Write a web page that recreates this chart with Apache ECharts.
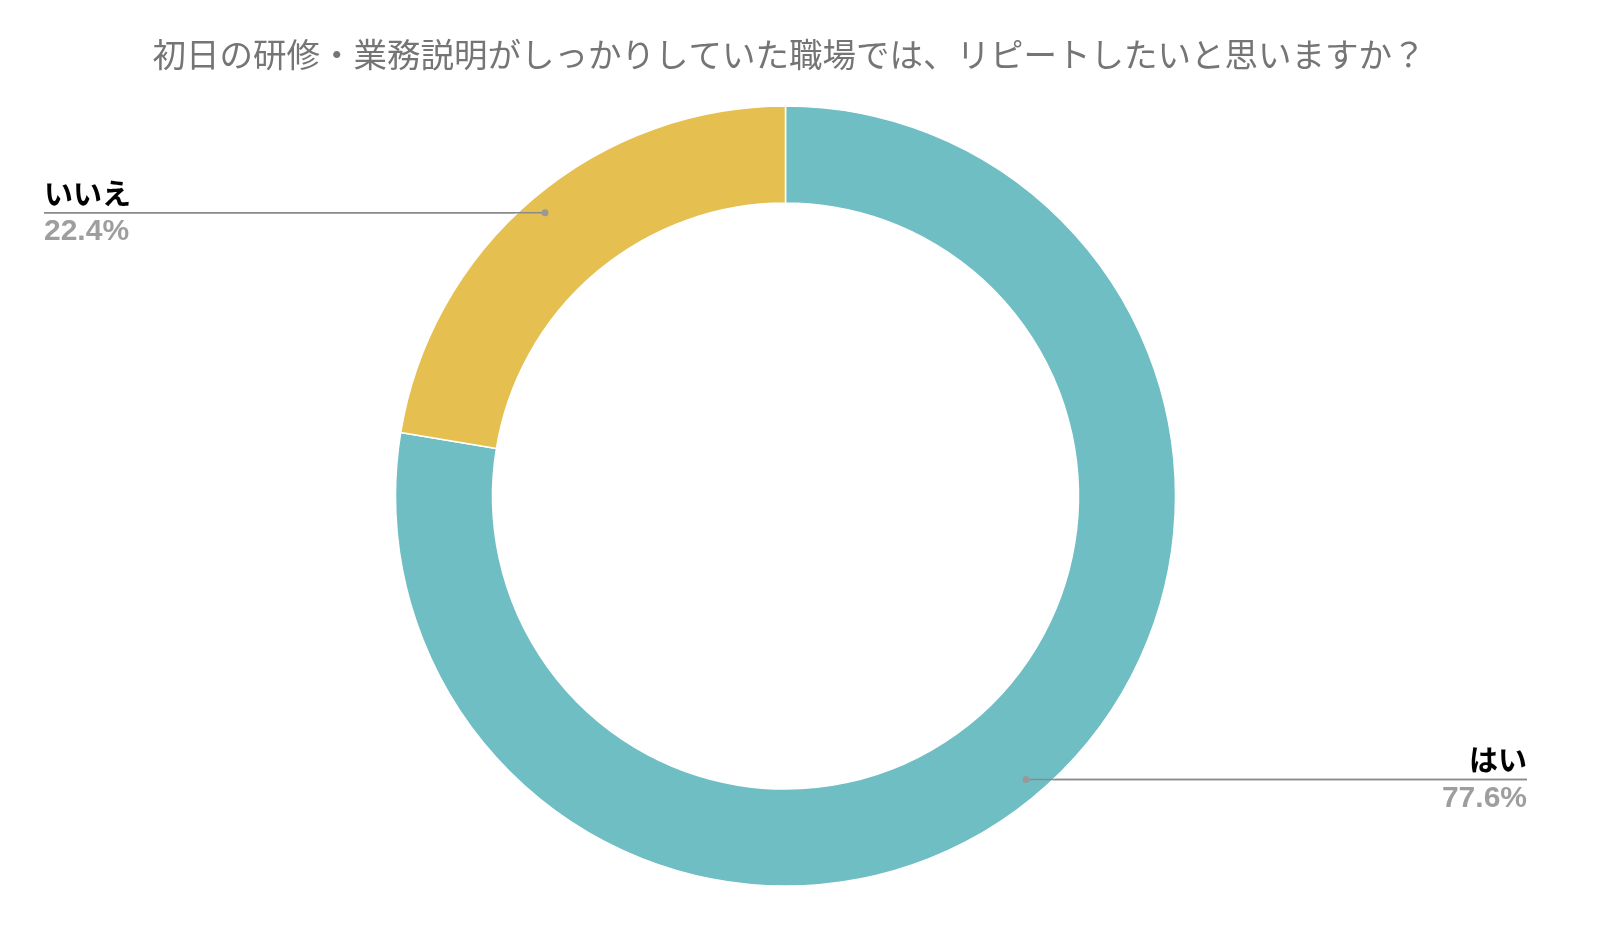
<!DOCTYPE html>
<html>
<head>
<meta charset="utf-8">
<script src="https://cdn.jsdelivr.net/npm/echarts@6/dist/echarts.min.js"></script>
<style>
  html, body { margin: 0; padding: 0; background: #fff; }
  #echarts { width: 1600px; height: 949px; }
</style>
</head>
<body>
<div id="echarts"></div>
<script>
// データ
var titleText = "初日の研修・業務説明がしっかりしていた職場では、リピートしたいと思いますか？";
var answers = ["はい", "いいえ"];
var shares = [77.6, 22.4];
var colors = ["#6FBEC3", "#E5C050"];

var chart = echarts.init(document.getElementById('echarts'));
var guides = [];

var pieData = answers.map(function (name, i) {
    return { name: name, value: shares[i], itemStyle: { color: colors[i] } };
});

var option = {
    animation: false,
    title: {
        text: titleText,
        left: 784,
        top: 33,
        textAlign: 'center',
        textStyle: {
            color: '#757575',
            fontSize: 33.5,
            fontWeight: 'normal',
            fontFamily: '"Noto Sans CJK JP", sans-serif'
        }
    },
    series: [{
        type: 'pie',
        left: 44,
        right: 73,
        top: 0,
        bottom: 0,
        center: ['50%', '52.27%'],
        radius: [293, 390],
        startAngle: 90,
        clockwise: true,
        avoidLabelOverlap: false,
        itemStyle: { borderColor: '#fff', borderWidth: 1.5 },
        data: pieData,
        label: {
            position: 'outer',
            alignTo: 'edge',
            edgeDistance: 0,
            formatter: function (p) {
                return '{name|' + p.name + '}\n{pct|' + p.value.toFixed(1) + '%}';
            },
            rich: {
                name: {
                    fontSize: 29,
                    fontWeight: 'bold',
                    color: '#000',
                    lineHeight: 38,
                    fontFamily: '"Noto Sans CJK JP", sans-serif'
                },
                pct: {
                    fontSize: 30,
                    fontWeight: 'bold',
                    color: '#9e9e9e',
                    lineHeight: 38,
                    fontFamily: '"Liberation Sans", Arial, sans-serif'
                }
            }
        },
        labelLine: {
            show: true,
            length: 0,
            length2: 10,
            lineStyle: { color: '#8a8a8a', width: 1.5 }
        },
        labelLayout: function (params) {
            var data = chart.getModel().getSeriesByIndex(0).getData();
            var lay = data.getItemLayout(params.dataIndex);
            var mid = (lay.startAngle + lay.endAngle) / 2;
            var rr = lay.r * 0.953;
            var dx = lay.cx + rr * Math.cos(mid);
            var dy = lay.cy + rr * Math.sin(mid);
            var rect = params.labelRect;
            var isLeft = rect.x < lay.cx;
            var endX = isLeft ? rect.x : rect.x + rect.width;
            guides[params.dataIndex] = { x: dx, y: dy, endX: endX };
            return {
                y: dy,
                labelLinePoints: [[dx, dy], [dx, dy], [endX, dy]]
            };
        }
    }]
};

chart.setOption(option);

// 引き出し線をドーナツの上に重ねる（始点に丸）
var extra = [];
guides.forEach(function (g) {
    extra.push({
        type: 'line',
        shape: { x1: g.x, y1: g.y, x2: g.endX, y2: g.y },
        style: { stroke: '#8a8a8a', lineWidth: 1.5 },
        z: 100
    });
    extra.push({
        type: 'circle',
        shape: { cx: g.x, cy: g.y, r: 3.5 },
        style: { fill: '#999' },
        z: 101
    });
});
chart.setOption({ graphic: extra });
</script>
</body>
</html>
